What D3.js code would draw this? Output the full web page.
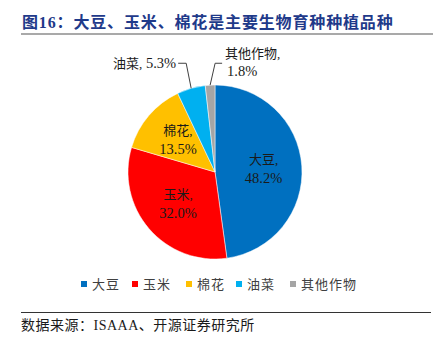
<!DOCTYPE html>
<html>
<head>
<meta charset="utf-8">
<script src="https://cdn.jsdelivr.net/npm/d3@7"></script>
<style>
html,body{margin:0;padding:0;background:#fff;}
svg{display:block;}
</style>
</head>
<body>
<svg id="chart" width="438" height="343"></svg>
<script>
const categories = ["大豆", "玉米", "棉花", "油菜", "其他作物"];
const values = [48.2, 32.0, 13.5, 5.3, 1.8];
const valueLabels = ["48.2%", "32.0%", "13.5%", "5.3%", "1.8%"];
const colors = ["#0070C0", "#FF0000", "#FFC000", "#00B0F0", "#A5A5A5"];
const titleText = "图16：大豆、玉米、棉花是主要生物育种种植品种";
const sourceText = "数据来源：ISAAA、开源证券研究所";

const FONT = "'Liberation Serif','Times New Roman','Noto Sans CJK SC',serif";
const svg = d3.select("#chart");

// Title
svg.append("text")
  .attr("x", 22).attr("y", 28)
  .attr("font-family", FONT)
  .attr("font-size", 16).attr("font-weight", "bold")
  .attr("letter-spacing", 0.85)
  .attr("fill", "#1F3A8A")
  .text(titleText);
svg.append("line")
  .attr("x1", 21).attr("x2", 433).attr("y1", 34).attr("y2", 34)
  .attr("stroke", "#8C8C8C").attr("stroke-width", 1.5);

// Pie
const cx = 215, cy = 172, r = 87;
const g = svg.append("g").attr("transform", `translate(${cx},${cy})`);
const pie = d3.pie().value(d => d).sort(null);
const arcs = pie(values);
const arc = d3.arc().innerRadius(0).outerRadius(r);

g.selectAll("path.slice").data(arcs).join("path")
  .attr("class", "slice")
  .attr("d", arc)
  .attr("fill", (d, i) => colors[i])
  .attr("stroke", "#fff").attr("stroke-width", 0.5);

// Inside labels
const inArc = d3.arc().innerRadius(r * 0.56).outerRadius(r * 0.56);
arcs.forEach((d, i) => {
  if (values[i] < 10) return;
  const [x, y] = inArc.centroid(d);
  const t = g.append("text")
    .attr("font-family", FONT)
    .attr("fill", "#1a1a1a").attr("text-anchor", "middle");
  t.append("tspan").attr("x", x).attr("y", y - 5).attr("font-size", 13).text(categories[i] + ",");
  t.append("tspan").attr("x", x).attr("y", y + 14).attr("font-size", 14.5).text(valueLabels[i]);
});

// Outside labels with leader lines
const edgeArc = d3.arc().innerRadius(r).outerRadius(r);
const elbowY = -r * 1.25;
arcs.forEach((d, i) => {
  if (values[i] >= 10) return;
  const [ex, ey] = edgeArc.centroid(d);
  const left = i === 3;
  const bx = left ? ex - 5 : ex + 5;
  const hx = left ? bx - 8 : bx + 7;
  g.append("polyline")
    .attr("points", [[ex, ey], [bx, elbowY], [hx, elbowY]].map(p => p.join(",")).join(" "))
    .attr("fill", "none").attr("stroke", "#404040").attr("stroke-width", 1);
  if (left) {
    const t = g.append("text")
      .attr("x", hx - 2).attr("y", elbowY + 5)
      .attr("font-family", FONT)
      .attr("fill", "#1a1a1a").attr("text-anchor", "end");
    t.append("tspan").attr("font-size", 13).text(categories[i] + ",");
    t.append("tspan").attr("font-size", 14.5).text(" " + valueLabels[i]);
  } else {
    const t = g.append("text")
      .attr("font-family", FONT)
      .attr("fill", "#1a1a1a").attr("text-anchor", "start");
    t.append("tspan").attr("x", hx + 3).attr("y", elbowY - 5).attr("font-size", 13).text(categories[i] + ",");
    t.append("tspan").attr("x", hx + 5).attr("y", elbowY + 13).attr("font-size", 14.5).text(valueLabels[i]);
  }
});

// Legend
const legendX = [81, 132, 186, 236, 290];
const lg = svg.append("g");
categories.forEach((c, i) => {
  lg.append("rect")
    .attr("x", legendX[i]).attr("y", 281)
    .attr("width", 6).attr("height", 6)
    .attr("fill", colors[i]);
  lg.append("text")
    .attr("x", legendX[i] + 11).attr("y", 289)
    .attr("font-family", FONT).attr("font-size", 13)
    .attr("letter-spacing", 1)
    .attr("fill", "#404040")
    .text(c);
});

// Bottom line and source
svg.append("line")
  .attr("x1", 21).attr("x2", 431).attr("y1", 312.5).attr("y2", 312.5)
  .attr("stroke", "#333").attr("stroke-width", 1);
svg.append("text")
  .attr("x", 21).attr("y", 330)
  .attr("font-family", FONT).attr("font-size", 14)
  .attr("letter-spacing", 0.5)
  .attr("fill", "#1a1a1a")
  .text(sourceText);
</script>
</body>
</html>
